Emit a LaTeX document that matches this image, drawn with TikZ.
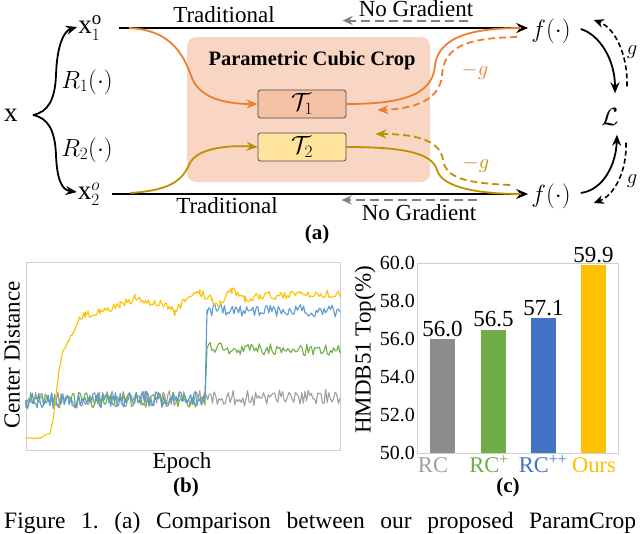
\documentclass[tikz,border=0pt]{standalone}
\usepackage{fontspec}
\setmainfont{Liberation Serif}
\usetikzlibrary{arrows.meta,calc}
\definecolor{orng}{HTML}{ED7D31}
\definecolor{gld}{HTML}{BF9000}
\definecolor{boxfill}{HTML}{F9D6C3}
\definecolor{tonefill}{HTML}{F5C2A5}
\definecolor{ttwofill}{HTML}{FFE49E}
\definecolor{bgray}{HTML}{8C8C8C}
\definecolor{lgray}{HTML}{A0A0A0}
\definecolor{cgreen}{HTML}{70AD47}
\definecolor{bblue}{HTML}{4472C4}
\definecolor{lblue}{HTML}{5B9BD5}
\definecolor{cyel}{HTML}{FFC000}
\definecolor{nograd}{HTML}{808080}
\definecolor{framegray}{HTML}{D0D0D0}
\newcommand\myfs[1]{\fontsize{#1}{#1}\selectfont}
\newcommand\noisy[3]{%
  \draw[#1] (#2) \foreach \xa/\ya/\xb/\yb/\am [evaluate=\xa as \ns using int((\xb-\xa)/1.6+2)] in {#3} {
    -- plot[domain=\xa:\xb, samples=\ns, variable=\t] (\t,{\ya+(\yb-\ya)*(\t-\xa)/(\xb-\xa)+\am*rand})
  };}
\begin{document}
\begin{tikzpicture}[x=1pt,y=-1pt,
  txt/.style={inner sep=0pt, font=\myfs{23}},
  mth/.style={inner sep=0pt, font=\myfs{27}},
  lbl/.style={inner sep=0pt, font=\myfs{21}\bfseries},
  blk/.style={line width=2pt, -{Stealth[length=12pt,width=10pt]}},
  curv/.style={line width=1.8pt, -{Stealth[length=11pt,width=9pt]}},
  dsh/.style={line width=1.8pt, dash pattern=on 7pt off 4pt, -{Stealth[length=11pt,width=9pt]}},
  ngarrow/.style={nograd, line width=2pt, dash pattern=on 9pt off 5pt, -{Stealth[length=10pt,width=9pt]}},
  fl/.style={line width=1.8pt, -{Stealth[length=11pt,width=9pt]}},
  fld/.style={line width=1.6pt, dash pattern=on 5pt off 3pt, -{Stealth[length=10pt,width=9pt]}},
  tbox/.style={draw=black!70, line width=0.8pt, rounded corners=2.5pt, minimum width=88pt, minimum height=28pt, inner sep=0pt, font=\myfs{25}},
  plotline/.style={line width=1.1pt, line join=round}]
\useasboundingbox (0,0) rectangle (640,533);

% ---------------- (a) ----------------
\node[fill=boxfill, rounded corners=9pt, minimum width=243pt, minimum height=145pt, inner sep=0pt] (pcc) at (308.5,109.5) {};
\node[inner sep=0pt, font=\myfs{20.5}\bfseries, anchor=base] (pcct) at (312,65) {Parametric Cubic Crop};
\node[tbox, fill=tonefill] (t1) at (302,104) {$\mathcal{T}_1$};
\node[tbox, fill=ttwofill] (t2) at (302,147) {$\mathcal{T}_2$};

\node[mth] (x) at (11,115) {$\mathrm{x}$};
\node[mth] (x1) at (90,28) {$\mathrm{x}_1^{\mathrm{o}}$};
\node[mth] (x2) at (89,194) {$\mathrm{x}_2^{o}$};
\node[mth] (r1) at (87,82) {$R_1(\cdot)$};
\node[mth] (r2) at (87,150) {$R_2(\cdot)$};
\node[mth] (f1) at (551,31) {$f(\cdot)$};
\node[mth] (f2) at (551,196) {$f(\cdot)$};
\node[mth] (L) at (610,117) {$\mathcal{L}$};

\node[txt, anchor=base] (trad1) at (224,22) {Traditional};
\node[txt, anchor=base] (trad2) at (227,213) {Traditional};
\node[txt, anchor=base] (ng1) at (416,16.5) {No Gradient};
\node[txt, anchor=base] (ng2) at (419,220) {No Gradient};

\node[inner sep=0pt, font=\myfs{22}, text=orng] (mg1) at (475,71) {$-g$};
\node[inner sep=0pt, font=\myfs{22}, text=gld] (mg2) at (476,164) {$-g$};
\node[inner sep=0pt, font=\myfs{22}] (g1) at (632,52) {$g$};
\node[inner sep=0pt, font=\myfs{22}] (g2) at (632,181) {$g$};

% x -> x1, x2
\draw[fl] ($(x.east)+(15,0)$) .. controls (48,112) and (55,100) .. (56,75) .. controls (57,45) and (64,31) .. ($(x1.west)+(-1,-1)$);
\draw[fl] ($(x.east)+(15,0)$) .. controls (48,118) and (55,130) .. (56,155) .. controls (57,180) and (62,190) .. ($(x2.west)+(-1,-2)$);

% traditional lines
\draw[blk] ($(x1.east)+(17,0)$) -- ($(x1.east -| f1.west)+(-3,0)$);
\draw[blk] ($(x2.east)+(12,0)$) -- ($(x2.east -| f2.west)+(-3,0)$);

% no gradient arrows
\draw[ngarrow] ($(ng1.base east)+(-5,4)$) -- ($(ng1.base west)+(-16,4)$);
\draw[ngarrow] ($(ng2.base east)+(1,-20)$) -- ($(ng2.base west)+(-20,-20)$);

% orange paths
\draw[orng, curv] ($(x1.east)+(27,0)$) .. controls (175,30) and (185,60) .. (192,78) .. controls (200,98) and (225,104) .. (t1.west);
\draw[orng, line width=1.8pt] (t1.east) .. controls (400,104) and (432,96) .. (435,66) .. controls (438,34) and (480,28) .. ($(x1.east -| f1.west)+(-10,0)$);
\draw[orng, dsh] ($(f1.west)+(-14,6)$) .. controls (470,38) and (444,45) .. (442,75) .. controls (440,102) and (410,109) .. ($(t1.east)+(31,6)$);

% gold paths
\draw[gld, curv] ($(x2.east)+(30,-1)$) .. controls (175,190) and (183,178) .. (190,163) .. controls (198,148) and (228,145) .. (t2.west);
\draw[gld, line width=1.8pt] (t2.east) .. controls (400,147) and (432,152) .. (437,170) .. controls (442,188) and (480,194) .. ($(x2.east -| f2.west)+(-10,0)$);
\draw[gld, dsh] ($(f2.west)+(-21,-11)$) .. controls (465,183) and (446,178) .. (443,160) .. controls (440,138) and (410,134) .. ($(t2.east)+(29,-13)$);

% f <-> L
\draw[fl] ($(f1.east)+(10,-2)$) .. controls (600,35) and (615,60) .. ($(L.north)+(5,-15)$);
\draw[fld] ($(L.north)+(17,-22)$) .. controls (628,55) and (615,28) .. ($(f1.east)+(23,-11)$);
\draw[fl] ($(f2.east)+(10,-3)$) .. controls (603,190) and (616,165) .. ($(L.south)+(7,9)$);
\draw[fld] ($(L.south)+(16,17)$) .. controls (627,170) and (615,195) .. ($(f2.east)+(23,7)$);

\node[lbl, anchor=base] (la) at (317,239) {(a)};

% ---------------- (b) ----------------
\node[draw=framegray, line width=1pt, minimum width=314pt, minimum height=188pt, inner sep=0pt] (pframe) at (183,356) {};
\pgfmathsetseed{4242}
\noisy{lgray, plotline}{26,400}{26/400/340/397/8}
\noisy{cgreen, plotline}{26,400}{26/400/205/400/8, 205/400/207/348/0, 207/348/340/350/6}
\noisy{lblue, plotline}{26,400}{26/401/205/398/8, 205/398/207/310/0, 207/310/340/311/6}
\noisy{cyel, plotline}{26,438}{26/438/40/438/0.3, 40/438/50/433/0.5, 50/433/53/420/0.5, 53/420/56/395/0.5, 56/395/59/370/0.5, 59/370/63/350/1, 63/350/68/342/1.5, 68/342/73/333/2, 73/333/78/320/2.5, 78/320/85/315/3, 85/315/100/312/4, 100/312/120/305/4, 120/305/135/298/4, 135/298/150/302/4, 150/302/165/305/4, 165/305/175/312/4, 175/312/185/300/4, 185/300/200/292/4, 200/292/212/300/4, 212/300/220/303/4, 220/303/232/290/4, 232/290/245/300/4, 245/300/260/295/4, 260/295/280/296/4, 280/296/300/293/4, 300/293/340/294/4}
\node[txt, rotate=90] (cd) at (12,355) {Center Distance};
\node[txt, anchor=base] (ep) at (182,468) {Epoch};
\node[lbl, anchor=base] (lb) at (186,492) {(b)};

% ---------------- (c) ----------------
\node[draw=framegray, line width=1pt, minimum width=201pt, minimum height=190pt, inner sep=0pt] (cframe) at (517.5,358) {};
\foreach \v [evaluate=\v as \yy using 453-(\v-50)*19] in {50,52,54,56,58,60}
  \node[inner sep=0pt, font=\myfs{20}, anchor=east] (tick\v) at (415,\yy) {\v.0};
\fill[bgray] (430,453) rectangle (455,339);
\fill[cgreen] (481,453) rectangle (506,329.5);
\fill[bblue] (531,453) rectangle (556,318);
\fill[cyel] (581,453) rectangle (606,265);
\node[inner sep=0pt, font=\myfs{23}, anchor=base] (v1) at (442.5,336) {56.0};
\node[inner sep=0pt, font=\myfs{23}, anchor=base] (v2) at (493.5,326.5) {56.5};
\node[inner sep=0pt, font=\myfs{23}, anchor=base] (v3) at (543.5,315) {57.1};
\node[inner sep=0pt, font=\myfs{23}, anchor=base] (v4) at (593.5,262) {59.9};
\node[inner sep=0pt, font=\myfs{22.5}, anchor=base, text=lgray] (c1) at (433,472) {RC};
\node[inner sep=0pt, font=\myfs{22.5}, anchor=base, text=cgreen] (c2) at (489,472) {RC\textsuperscript{+}};
\node[inner sep=0pt, font=\myfs{22.5}, anchor=base, text=bblue] (c3) at (543,472) {RC\textsuperscript{++}};
\node[inner sep=0pt, font=\myfs{22.5}, anchor=base, text=cyel] (c4) at (594,472) {Ours};
\node[txt, rotate=90] (hm) at (365,350) {HMDB51 Top(\%)};
\node[lbl, anchor=base] (lc) at (508,492) {(c)};

% caption
\node[inner sep=0pt, font=\myfs{23.5}, anchor=base west] (cap) at (4,528) {\frenchspacing\makebox[632pt][s]{Figure 1. (a) Comparison between our proposed ParamCrop}};
\end{tikzpicture}
\end{document}
